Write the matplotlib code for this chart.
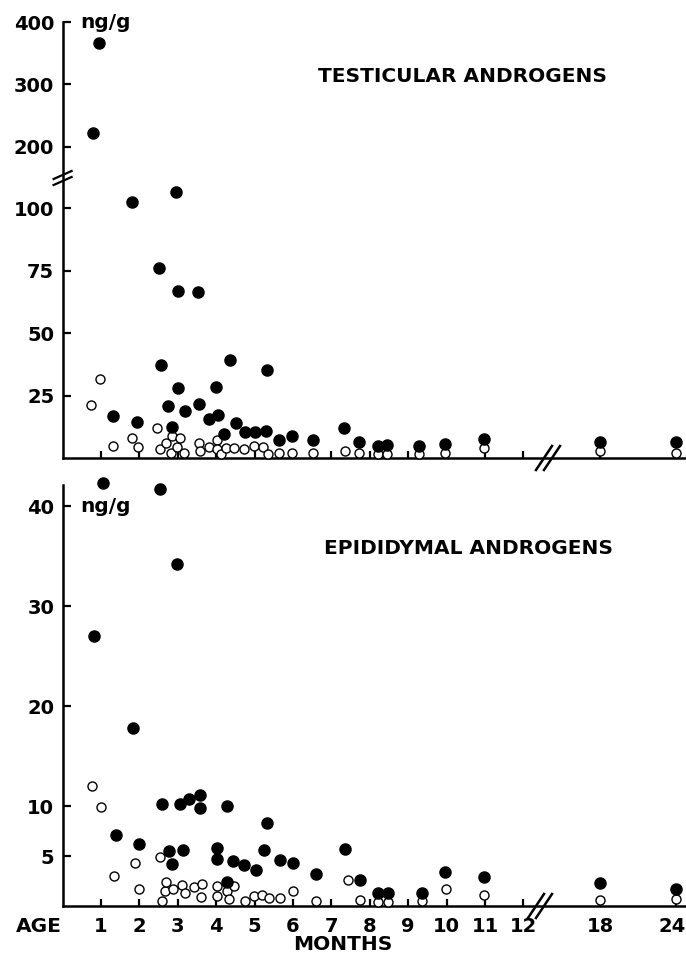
import numpy as np
import matplotlib
matplotlib.use("Agg")
import matplotlib.pyplot as plt
from matplotlib.transforms import ScaledTranslation

plt.rcParams['font.family'] = ['DejaVu Sans']
plt.rcParams['font.weight'] = 'bold'

# testicular androgens (ng/g), filled = total, open = second group
tes_fill_age = [0.78, 0.95, 1.30, 1.82, 1.95, 2.51, 2.57, 2.74, 2.86, 2.95, 3.0, 3.01, 3.2,
                3.53, 3.54, 3.8, 3.99, 4.05, 4.19, 4.36, 4.51, 4.75, 5.01, 5.30, 5.33, 5.64,
                5.97, 6.51, 7.34, 7.73, 8.22, 8.44, 9.27, 9.95, 10.97, 18, 24]
tes_fill_val = [222, 367, 16.9, 102.3, 14.5, 75.9, 37.2, 20.8, 12.4, 106.3, 66.7, 28.0, 18.9,
                66.5, 21.8, 15.5, 28.4, 17.2, 9.7, 39.1, 13.9, 10.4, 10.5, 10.9, 35.1, 7.1,
                8.8, 7.1, 11.9, 6.5, 4.8, 5.1, 4.9, 5.6, 7.6, 6.4, 6.4]
tes_open_age = [0.74, 0.97, 1.32, 1.80, 1.97, 2.47, 2.53, 2.69, 2.81, 2.85, 2.98, 3.07, 3.17,
                3.54, 3.59, 3.81, 4.02, 4.02, 4.13, 4.25, 4.46, 4.72, 4.98, 5.23, 5.34, 5.64,
                5.97, 6.51, 7.35, 7.73, 8.2, 8.44, 9.27, 9.95, 10.97, 18, 24]
tes_open_val = [21.2, 31.6, 4.7, 7.9, 4.4, 12.1, 3.5, 6.1, 2.1, 8.8, 4.4, 8.1, 2.0,
                5.9, 2.9, 4.5, 7.1, 3.6, 1.5, 3.9, 4.0, 3.7, 4.8, 4.3, 1.6, 2.0,
                2.0, 2.1, 2.9, 2.1, 1.6, 1.6, 1.6, 2.1, 4.1, 2.7, 2.1]

# epididymal androgens (ng/g)
epi_fill_age = [0.83, 1.06, 1.38, 1.83, 1.99, 2.54, 2.60, 2.77, 2.86, 2.97, 3.07, 3.14, 3.30,
                3.57, 3.58, 4.02, 4.03, 4.27, 4.29, 4.43, 4.73, 5.04, 5.24, 5.32, 5.65, 6.01,
                6.60, 7.35, 7.74, 8.22, 8.47, 9.36, 9.96, 10.97, 18, 24]
epi_fill_val = [27.0, 42.3, 7.1, 17.8, 6.2, 41.7, 10.2, 5.5, 4.2, 34.2, 10.2, 5.6, 10.7,
                11.1, 9.8, 4.7, 5.8, 10.0, 2.4, 4.5, 4.1, 3.6, 5.6, 8.3, 4.6, 4.3,
                3.2, 5.7, 2.6, 1.3, 1.3, 1.3, 3.4, 2.9, 2.3, 1.7]
epi_open_age = [0.76, 0.99, 1.34, 1.88, 1.99, 2.54, 2.60, 2.67, 2.70, 2.88, 3.12, 3.19, 3.41,
                3.61, 3.64, 4.02, 4.02, 4.29, 4.33, 4.47, 4.76, 4.99, 5.18, 5.37, 5.65, 5.99,
                6.59, 7.42, 7.74, 8.2, 8.47, 9.36, 9.98, 10.98, 18, 24]
epi_open_val = [12.0, 9.9, 3.0, 4.3, 1.7, 4.9, 0.5, 1.5, 2.4, 1.7, 2.1, 1.3, 1.9,
                0.9, 2.2, 2.0, 1.0, 1.5, 0.7, 2.0, 0.5, 1.0, 1.1, 0.8, 0.8, 1.5,
                0.5, 2.6, 0.6, 0.4, 0.4, 0.5, 1.7, 1.1, 0.6, 0.7]

age_ticks = [1, 2, 3, 4, 5, 6, 7, 8, 9, 10, 11, 12, 18, 24]
tes_ticks = [25, 50, 75, 100, 200, 300, 400]
epi_ticks = [5, 10, 20, 30, 40]


# months: linear up to 12, compressed after the break
def age_fwd(m):
    m = np.asarray(m, dtype=float)
    return np.where(m <= 12, m, 12 + (m - 12) * 0.332)


def age_inv(t):
    t = np.asarray(t, dtype=float)
    return np.where(t <= 12, t, 12 + (t - 12) / 0.332)


# testicular values: broken axis between ~112 and 150, upper part 1/4 scale
tes_xp = [0, 112, 150, 1000]
tes_fp = [0, 112, 112.01, 112.01 + 850 / 4]


def tes_fwd(v):
    return np.interp(v, tes_xp, tes_fp)


def tes_inv(t):
    return np.interp(t, tes_fp, tes_xp)


W, H = 686, 957
fig = plt.figure(figsize=(W / 100, H / 100), dpi=100)
ax1 = fig.add_axes([62.6 / W, 1 - 458 / H, (W - 62.6) / W, 436 / H])
ax2 = fig.add_axes([62.6 / W, 1 - 906 / H, (W - 62.6) / W, 430 / H])

for ax in (ax1, ax2):
    ax.set_xscale('function', functions=(age_fwd, age_inv))
    ax.set_xlim(0, 24.75)
    ax.spines['top'].set_visible(False)
    ax.spines['right'].set_visible(False)
    ax.spines['left'].set_linewidth(1.8)
    ax.spines['bottom'].set_linewidth(1.8)
    ax.tick_params(direction='in', width=1.6, labelsize=14)
    ax.tick_params(axis='x', length=5, pad=8)
    ax.tick_params(axis='y', length=6, pad=6)
    ax.set_xticks(age_ticks)

ax1.set_yscale('function', functions=(tes_fwd, tes_inv))
ax1.set_ylim(0, 400)
ax1.set_yticks(tes_ticks)
ax1.set_yticklabels([str(t) for t in tes_ticks])
ax1.set_xticklabels([])

ax2.set_ylim(0, 43)
ax2.spines['left'].set_bounds(0, 42.1)
ax2.set_yticks(epi_ticks)
ax2.set_xticklabels([str(t) for t in age_ticks])
# nudge the "24" label left so it stays inside the figure
last = ax2.get_xticklabels()[-1]
last.set_transform(last.get_transform() + ScaledTranslation(-4 / 100, 0, fig.dpi_scale_trans))

ax1.plot(tes_open_age, tes_open_val, 'o', ms=6.5, mfc='white', mec='black', mew=1.0,
         clip_on=False, zorder=5)
ax1.plot(tes_fill_age, tes_fill_val, 'o', ms=8, color='black', clip_on=False, zorder=6)
ax2.plot(epi_open_age, epi_open_val, 'o', ms=6.5, mfc='white', mec='black', mew=1.0,
         clip_on=False, zorder=5)
ax2.plot(epi_fill_age, epi_fill_val, 'o', ms=8, color='black', clip_on=False, zorder=6)

# break marks (pixel offsets converted to axes fractions)
aw = W - 62.6
for ax, ah, dx in ((ax1, 436, 548), (ax2, 430, 540)):
    cx = (dx - 62.6) / aw
    for off in (-4, 4):
        x0 = cx + (off - 8) / aw
        x1 = cx + (off + 8) / aw
        ax.plot([x0, x1], [-12 / ah, 12 / ah], color='black', lw=1.8,
                transform=ax.transAxes, clip_on=False, zorder=7)

cy = (458 - 178) / 436
for off in (-3, 3):
    ax1.plot([-9 / aw, 9 / aw], [cy + (off - 4) / 436, cy + (off + 4) / 436],
             color='black', lw=1.6, transform=ax1.transAxes, clip_on=False, zorder=7)

fig.text(80 / W, 1 - 22 / H, 'ng/g', fontsize=14.5, ha='left', va='center')
fig.text(80 / W, 1 - 507 / H, 'ng/g', fontsize=14.5, ha='left', va='center')
fig.text(462 / W, 1 - 76 / H, 'TESTICULAR ANDROGENS', fontsize=14.5, ha='center', va='center')
fig.text(469 / W, 1 - 549 / H, 'EPIDIDYMAL ANDROGENS', fontsize=14.5, ha='center', va='center')
fig.text(16 / W, 1 - 926 / H, 'AGE', fontsize=14.5, ha='left', va='center')
fig.text(343 / W, 1 - 944 / H, 'MONTHS', fontsize=14.5, ha='center', va='center')

fig.savefig('out.png', dpi=100)
